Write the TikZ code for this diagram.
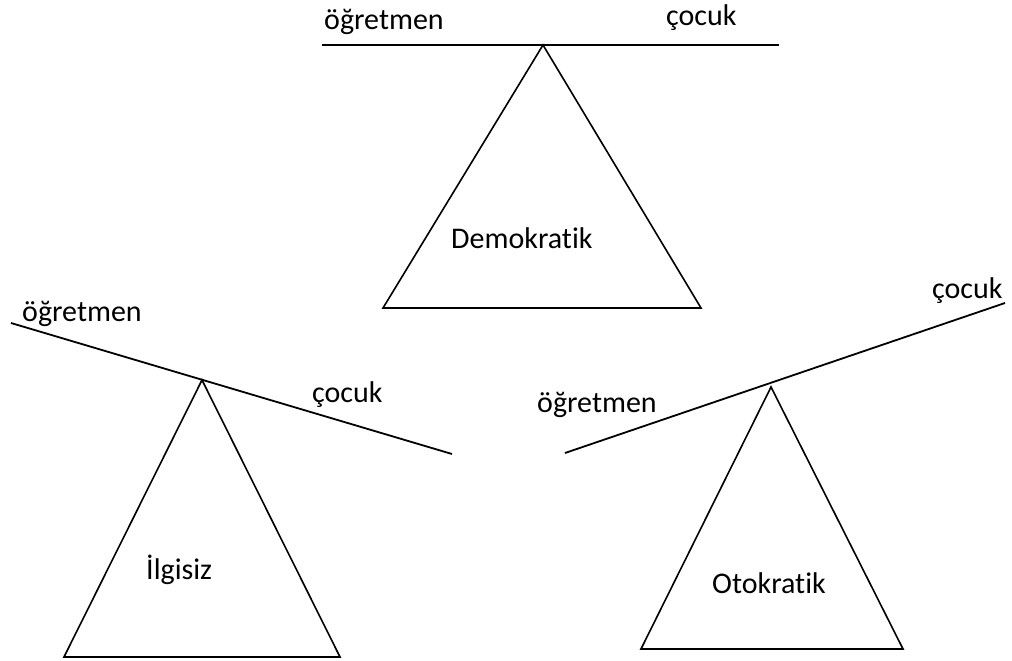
\documentclass[tikz,border=0pt]{standalone}
\usepackage{fontspec}
\setmainfont{Carlito}[Ligatures=NoCommon]
\tikzstyle{every node}=[inner sep=0pt, anchor=base west,
                        font=\fontsize{30}{36}\selectfont]
\tikzstyle{every picture}=[x=1pt, y=-1pt]
\tikzstyle{beam}=[line width=1.8pt]
\tikzstyle{stand}=[line width=1.6pt, line join=miter]

\begin{document}
\begin{tikzpicture}
      \useasboundingbox (0,0) rectangle (1012,661);
      % Demokratik
      \coordinate (demleft) at (322,45);
      \coordinate (demright) at (779,45);
      \coordinate (demtip) at (543,45);
      \draw[beam] (demleft)--(demright);
      \draw[stand] (demtip)--(383,308)--(701,308)--cycle;
      \node (demteacher) at (324,30) {öğretmen};
      \node (demchild) at (666,26) {çocuk};
      \node (demname) at (451,248) {Demokratik};
      % İlgisiz
      \coordinate (ilgleft) at (11,323);
      \coordinate (ilgright) at (452,454);
      \coordinate (ilgtip) at (202,380);
      \draw[beam] (ilgleft)--(ilgright);
      \draw[stand] (ilgtip)--(64,657)--(340,657)--cycle;
      \node (ilgteacher) at (22,321) {öğretmen};
      \node (ilgchild) at (312,402) {çocuk};
      \node (ilgname) at (146,579) {İlgisiz};
      % Otokratik
      \coordinate (otoleft) at (565,453);
      \coordinate (otoright) at (1005,303);
      \coordinate (ototip) at (771,387);
      \draw[beam] (otoleft)--(otoright);
      \draw[stand] (ototip)--(641,649)--(903,649)--cycle;
      \node (ototeacher) at (537,412) {öğretmen};
      \node (otochild) at (932,298) {çocuk};
      \node (otoname) at (712,593) {Otokratik};
\end{tikzpicture}
\end{document}
